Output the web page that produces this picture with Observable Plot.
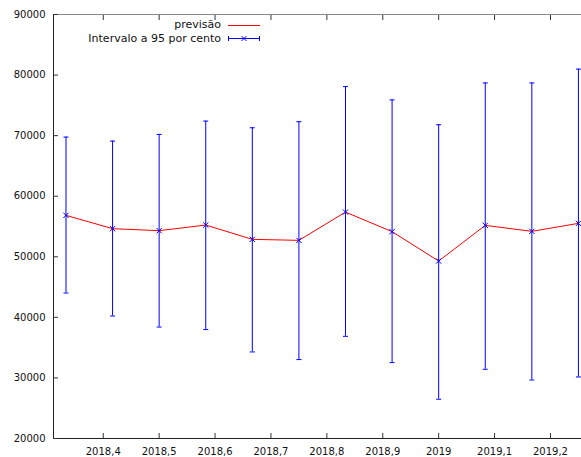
<!DOCTYPE html>
<html>
<head>
<meta charset="utf-8">
<script src="https://cdn.jsdelivr.net/npm/d3@7"></script>
<script src="https://cdn.jsdelivr.net/npm/@observablehq/plot@0.6"></script>
<style>
  body { margin: 0; background: #fff; }
  #chart svg { display: block; }
</style>
</head>
<body>
<div id="chart"></div>
<script>
// Monthly forecast with its 95% interval
const months = ["2018:05", "2018:06", "2018:07", "2018:08", "2018:09", "2018:10",
                "2018:11", "2018:12", "2019:01", "2019:02", "2019:03", "2019:04"];
const forecast = [56840, 54640, 54310, 55240, 52880, 52710, 57380, 54150, 49300, 55190, 54200, 55520];
const lower    = [44020, 40220, 38400, 37980, 34290, 33030, 36870, 32530, 26480, 31430, 29660, 30160];
const upper    = [69760, 69100, 70200, 72400, 71300, 72300, 78100, 75900, 71800, 78700, 78700, 80980];

const xDomain = [2018.311, 2019.2555];
const xTicks = [2018.4, 2018.5, 2018.6, 2018.7, 2018.8, 2018.9, 2019, 2019.1, 2019.2];
const xTickLabels = ["2018,4", "2018,5", "2018,6", "2018,7", "2018,8", "2018,9", "2019", "2019,1", "2019,2"];
const yDomain = [20000, 90000];
const yTicks = [20000, 30000, 40000, 50000, 60000, 70000, 80000, 90000];
const legendLabels = ["previsão", "Intervalo a 95 por cento"];

// decimal time: year + (month - 1) / 12
const rows = months.map((m, i) => {
  const [yr, mo] = m.split(":").map(Number);
  return {t: yr + (mo - 1) / 12, forecast: forecast[i], lower: lower[i], upper: upper[i]};
});

const RED = "#ff0000";
const BLUE = "#0000ff";

// short horizontal cap for the error bars
const capSymbol = {
  draw(context, size) {
    const w = Math.sqrt(size / Math.PI);
    context.moveTo(-w, 0);
    context.lineTo(w, 0);
  }
};

const chart = Plot.plot({
  width: 581,
  height: 457,
  marginLeft: 53,
  marginRight: 0,
  marginTop: 14,
  marginBottom: 19,
  style: {fontFamily: "'DejaVu Sans', Verdana, sans-serif", fontSize: "10px", color: "#111", background: "#fff"},
  x: {domain: xDomain, label: null},
  y: {domain: yDomain, label: null},
  marks: [
    Plot.frame({anchor: "top", stroke: "#888"}),
    Plot.frame({anchor: "left", stroke: "#222"}),
    Plot.frame({anchor: "bottom", stroke: "#222"}),
    // inward tick marks
    Plot.axisX({anchor: "bottom", ticks: xTicks, tickSize: -5, tickFormat: () => "", stroke: "#333"}),
    Plot.axisX({anchor: "top", ticks: xTicks, tickSize: -5, tickFormat: () => "", stroke: "#333"}),
    Plot.axisY({anchor: "left", ticks: yTicks, tickSize: -5, tickFormat: () => "", stroke: "#333"}),
    // tick labels
    Plot.axisX({anchor: "bottom", ticks: xTicks, tickSize: 0, tickPadding: 9,
                tickFormat: d => xTickLabels[xTicks.indexOf(d)]}),
    Plot.axisY({anchor: "left", ticks: yTicks, tickSize: 0, tickPadding: 8, tickFormat: d => String(d)}),
    // forecast line
    Plot.line(rows, {x: "t", y: "forecast", stroke: RED, strokeWidth: 1}),
    // interval bars
    Plot.ruleX(rows, {x: "t", y1: "lower", y2: "upper", stroke: BLUE, strokeWidth: 1}),
    Plot.dot(rows, {x: "t", y: "lower", symbol: capSymbol, r: 2.5, stroke: BLUE, strokeWidth: 1}),
    Plot.dot(rows, {x: "t", y: "upper", symbol: capSymbol, r: 2.5, stroke: BLUE, strokeWidth: 1}),
    Plot.dot(rows, {x: "t", y: "forecast", symbol: "times", r: 2.5, stroke: BLUE, strokeWidth: 1})
  ]
});

// key in the upper left of the plot area
const svg = d3.select(chart);
const key = svg.append("g")
  .attr("font-family", "'DejaVu Sans', Verdana, sans-serif")
  .attr("font-size", "11px")
  .attr("fill", "#111");
key.append("text").attr("x", 221).attr("y", 28).attr("text-anchor", "end").text(legendLabels[0]);
key.append("line").attr("x1", 228).attr("x2", 260).attr("y1", 25.5).attr("y2", 25.5)
  .attr("stroke", RED).attr("stroke-width", 1);
key.append("text").attr("x", 221).attr("y", 42).attr("text-anchor", "end").text(legendLabels[1]);
const k = key.append("g").attr("stroke", BLUE).attr("stroke-width", 1).attr("fill", "none");
k.append("line").attr("x1", 228).attr("x2", 260).attr("y1", 38.5).attr("y2", 38.5);
k.append("line").attr("x1", 228.5).attr("x2", 228.5).attr("y1", 36).attr("y2", 41);
k.append("line").attr("x1", 259.5).attr("x2", 259.5).attr("y1", 36).attr("y2", 41);
k.append("path").attr("d", "M241.5,36L246.5,41M241.5,41L246.5,36");

document.getElementById("chart").appendChild(chart);
</script>
</body>
</html>
